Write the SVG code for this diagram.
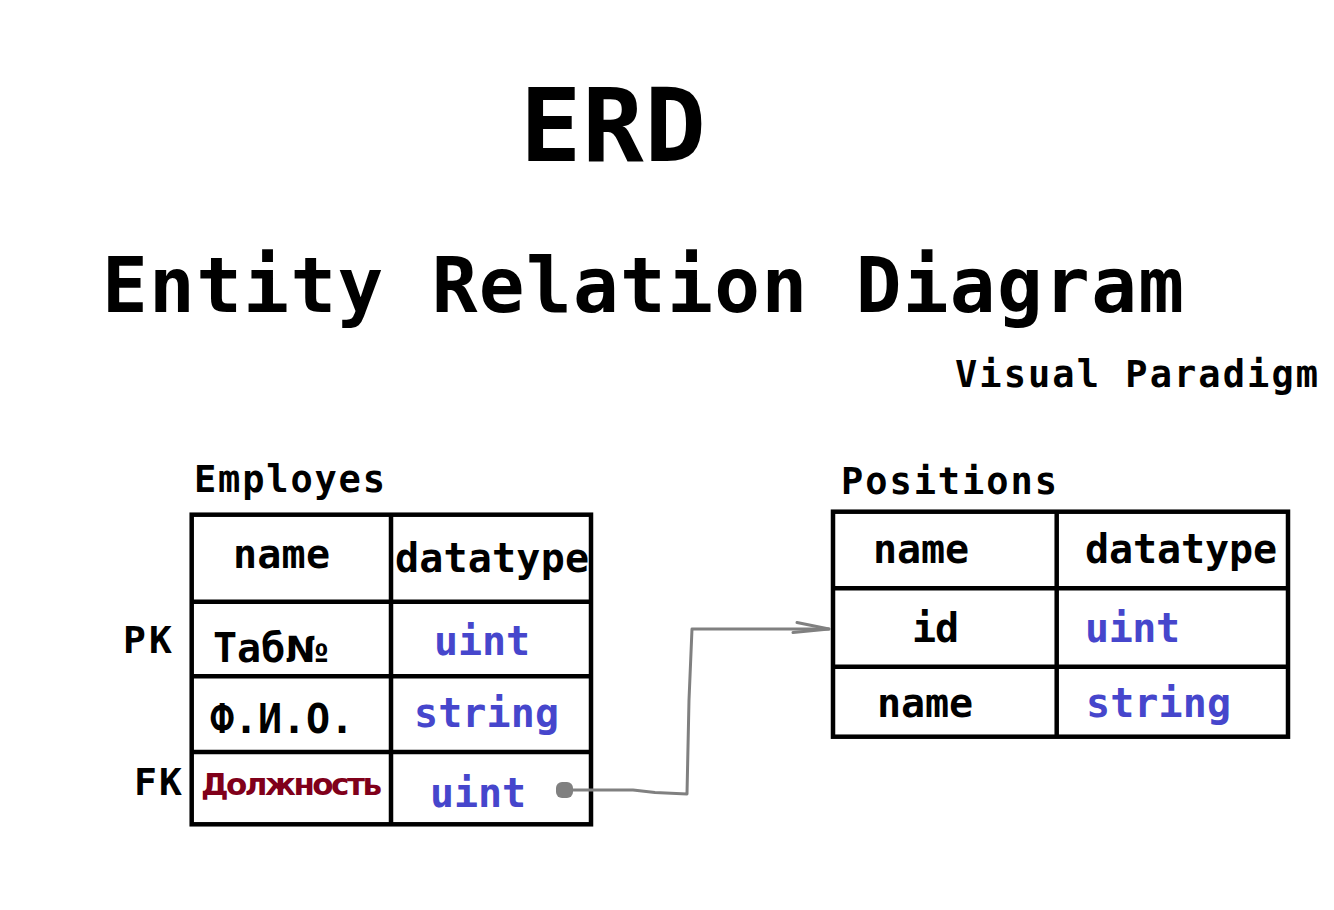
<svg xmlns="http://www.w3.org/2000/svg" width="1334" height="910" viewBox="0 0 1334 910">
<defs>
<style>
text{font-family:"DejaVu Sans Mono","Liberation Mono",monospace;font-weight:bold;fill:#000;}
.cell{font-size:40px;}
.blue{fill:#4646CC;}
.red{fill:#80001A;font-family:"DejaVu Sans","Noto Sans",sans-serif;font-size:31px;}
.lbl{font-size:38px;}
.grid{fill:none;stroke:#000;stroke-width:4.5;}
.conn{fill:none;stroke:#808080;stroke-width:3;stroke-linejoin:round;stroke-linecap:round;}
</style>
<marker id="open" viewBox="-40 -10 44 20" refX="0" refY="0" markerWidth="44" markerHeight="20" markerUnits="userSpaceOnUse" orient="auto">
<path d="M-32,-6.5 L0,0 L-36,3.5" fill="none" stroke="#808080" stroke-width="3" stroke-linecap="round" stroke-linejoin="round"/>
</marker>
</defs>
<rect width="1334" height="910" fill="#fff"/>
<g id="titles">
<text x="520" y="161" font-size="102" textLength="186">ERD</text>
<text x="102" y="312" font-size="76" textLength="1082">Entity Relation Diagram</text>
<text x="955" y="387" font-size="37" textLength="363">Visual Paradigm</text>
</g>
<g id="employes">
<text x="194" y="492" font-size="37" textLength="191">Employes</text>
<rect class="grid" x="191.7" y="514.7" width="399.3" height="309.6"/>
<line class="grid" x1="391" y1="514.7" x2="391" y2="824.3"/>
<line class="grid" x1="191.7" y1="601.7" x2="591" y2="601.7"/>
<line class="grid" x1="191.7" y1="676.3" x2="591" y2="676.3"/>
<line class="grid" x1="191.7" y1="752" x2="591" y2="752"/>
<text class="cell" x="233" y="568" textLength="97">name</text>
<text class="cell" x="395" y="572" textLength="194">datatype</text>
<text class="lbl" x="123" y="653" textLength="49">PK</text>
<text class="cell" x="213" y="662">Таб<tspan font-family="'DejaVu Sans','Noto Sans',sans-serif" font-size="36">№</tspan></text>
<text class="cell blue" x="434" y="655" textLength="96">uint</text>
<text class="cell" x="210" y="733" textLength="144">Ф.И.О.</text>
<text class="cell blue" x="414" y="727" textLength="145">string</text>
<text class="lbl" x="134" y="795" textLength="48">FK</text>
<text class="red" x="201" y="795" textLength="181">Должность</text>
<text class="cell blue" x="430" y="807" textLength="96">uint</text>
</g>
<g id="positions">
<text x="841" y="494" font-size="37" textLength="216">Positions</text>
<rect class="grid" x="833" y="511.7" width="455" height="225"/>
<line class="grid" x1="1056.7" y1="511.7" x2="1056.7" y2="736.7"/>
<line class="grid" x1="833" y1="588.3" x2="1288" y2="588.3"/>
<line class="grid" x1="833" y1="666.7" x2="1288" y2="666.7"/>
<text class="cell" x="873" y="563" textLength="96">name</text>
<text class="cell" x="1085" y="563" textLength="192">datatype</text>
<text class="cell" x="912" y="642" textLength="47">id</text>
<text class="cell blue" x="1085" y="642" textLength="95">uint</text>
<text class="cell" x="877" y="717" textLength="96">name</text>
<text class="cell blue" x="1086" y="717" textLength="145">string</text>
</g>
<g id="connectors">
<path class="conn" d="M564,790 L633,790 L655,792.5 L687,794 L689,700 L692,629 L829,629" marker-end="url(#open)"/>
<rect x="556" y="782" width="17" height="16" rx="6" fill="#808080"/>
</g>
</svg>
